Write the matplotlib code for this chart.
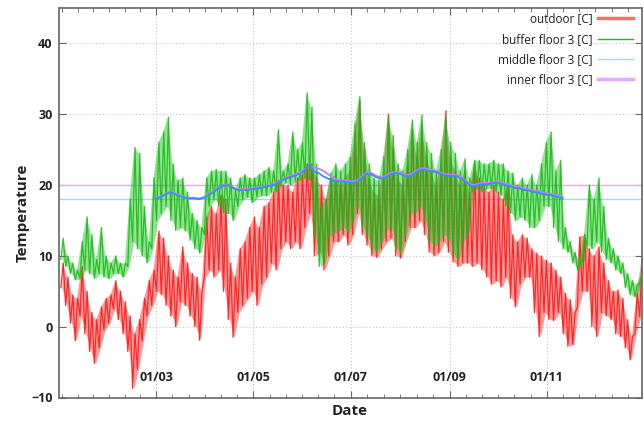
import numpy as np
import matplotlib
matplotlib.use("Agg")
import matplotlib.pyplot as plt
import matplotlib.dates as mdates
from matplotlib.lines import Line2D
import datetime as dt

plt.rcParams['font.family'] = ['Open Sans', 'DejaVu Sans']

# ---------------- data ----------------
year_start = dt.datetime(2011, 1, 1)
step_days = 3  # one low/high pair per 3-day bucket

outdoor_hi = [9, 7, 4.5, 4, 8.5, 5, 2, 1, 2.8, 4,
              4.5, 6.5, 5, 3.5, 1.5, -1, 1, 4, 6.5, 8,
              13.5, 12.5, 10, 8, 7, 11.3, 9, 7.5, 7, 5,
              15.5, 17, 16, 18.6, 18, 9, 7, 11, 12, 14,
              15.5, 14, 17, 17.5, 19, 20.7, 20, 20, 19, 21,
              21.5, 23, 23, 21, 20, 18, 21, 21.5, 20, 21,
              22, 27, 32, 25, 21, 19, 18.5, 22, 30, 25,
              21, 20, 23, 28, 24, 28.5, 24, 22, 20, 23,
              30.5, 24, 22, 20, 22, 19, 23, 21, 20, 19,
              20, 19, 18, 20, 13, 12, 13, 12.5, 11, 10.4,
              10, 9.4, 9, 8, 7, 4.7, 3.8, 2, 12.7, 13,
              11, 10, 11.3, 9, 6.5, 5, 5.2, 4, 1, -1.4,
              4.7, 9.4]
outdoor_lo = [5.5, 3, 0.5, -2, 1.5, -1, -3.5, -5.2, -3, -0.5,
              0.5, 2.5, 1, -1, -3.5, -8.7, -6, -2, 1.5, 3,
              5, 4.5, 3, 1.5, 0, 3.5, 3, 1.5, 0, -1.9,
              7, 8, 7, 8, 5, 1, -1.5, 2, 3, 4,
              5, 3, 6, 7, 9, 8, 11, 12, 11, 12,
              11, 14, 16, 10, 10.5, 8, 10, 12, 12, 13,
              11.5, 13, 16, 13, 11.5, 10, 9.8, 11, 12, 12.5,
              10, 9.7, 12, 14, 14, 15, 13, 10.5, 10, 10.5,
              12, 10.5, 9.1, 8.5, 9, 9, 8.5, 9, 8, 7,
              6, 6.5, 5.6, 7, 4, 2.8, 6, 7, 7, 2,
              -1.4, 2, 1, 0.9, 2, -1, -2.8, -2.5, 2.8, 5,
              5, 0, -1.4, 2, 1.5, 1, -1, -1.4, -3, -4.7,
              -1, 1.4]
buffer_hi = [12.5, 10, 9, 8, 12, 15.5, 13, 9.5, 14, 10,
             9, 10, 9, 9, 18, 25.3, 24.5, 17, 12, 21,
             26, 27.5, 29.6, 23, 20.7, 21, 19, 16, 15, 14,
             21, 22, 22.2, 22, 22, 21, 19.3, 21, 21.5, 21,
             21, 21.5, 22, 22.5, 22, 27.8, 22, 23, 27.5, 25,
             26, 33, 31, 23, 17, 18, 21.7, 23, 22, 23,
             24, 28.7, 32.5, 26, 23, 21, 20.7, 24, 29.7, 27,
             23, 22, 25, 29.2, 26, 29.9, 26, 24.5, 22, 25,
             29.7, 26, 24.5, 22, 23.7, 21, 23.5, 23.5, 23, 23,
             23.5, 23, 23, 22, 21.7, 20, 21, 20, 21.5, 20,
             23, 26, 27.5, 22, 23.5, 14, 12, 10.5, 9.5, 13,
             20, 18, 21, 17, 12.5, 11, 10, 9, 7.5, 6.5,
             6, 7.5]
buffer_lo = [9.5, 8.5, 7.5, 6.6, 6.8, 8, 7.5, 6.8, 7.5, 7,
             6.8, 7.5, 7.5, 7, 8.5, 12, 11, 10, 9, 11,
             15, 16, 17, 15, 13.6, 14, 13.5, 12.2, 11, 10.4,
             13, 17, 18, 17, 16, 16, 15, 17, 18, 18.3,
             17.5, 18.3, 18.5, 18.5, 19, 19, 20, 20.3, 20, 20.5,
             20.7, 21, 20.7, 12.7, 8.5, 9, 12.7, 13.2, 13.5, 14,
             13.2, 15, 17, 14, 12.7, 11, 10.4, 12, 13.7, 14,
             11, 10.4, 13, 16, 16, 17, 15, 12, 11.3, 12,
             13, 12.2, 10, 9.5, 12.2, 13, 19, 19.5, 19, 19.5,
             19.5, 19, 18.5, 17, 16, 15, 15.5, 15, 14, 14,
             15, 17, 17, 14, 12, 11, 10.5, 9, 8, 9,
             11.5, 11, 12, 10.5, 9.5, 9, 8, 7.5, 5.5, 4.5,
             4.2, 6]

indoor_start_day = 59  # 1 March
middle_floor3 = [18.1, 18.3, 18.7, 19.0, 18.7, 18.4, 18.2, 18.1, 18.1, 18.0,
                 18.2, 18.6, 19.0, 19.5, 19.9, 20.0, 19.6, 19.3, 19.3, 19.3,
                 19.4, 19.5, 19.6, 19.8, 19.9, 20.1, 20.5, 20.9, 21.1, 21.3,
                 21.6, 22.0, 22.8, 21.9, 21.7, 21.2, 20.9, 20.6, 20.5, 20.5,
                 20.4, 20.3, 20.4, 21.0, 21.6, 21.5, 21.1, 20.9, 21.1, 21.5,
                 21.7, 21.6, 21.3, 21.2, 21.6, 22.1, 22.2, 22.0, 21.9, 21.7,
                 21.4, 21.3, 21.3, 21.2, 20.8, 20.3, 19.8, 19.9, 20.1, 20.1,
                 20.2, 20.3, 20.2, 20.0, 19.8, 19.6, 19.5, 19.3, 19.2, 19.0,
                 18.9, 18.7, 18.6, 18.5, 18.3, 18.1]
inner_floor3 = [18.2, 18.4, 18.8, 19.1, 18.8, 18.5, 18.3, 18.2, 18.2, 18.1,
                18.3, 18.7, 19.1, 19.6, 20.0, 20.1, 19.7, 19.4, 19.4, 19.4,
                19.5, 19.6, 19.7, 19.9, 20.0, 20.2, 20.6, 21.0, 21.3, 21.5,
                21.8, 22.2, 22.6, 22.5, 22.3, 22.0, 21.5, 21.0, 20.7, 20.7,
                20.6, 20.5, 20.6, 21.2, 21.8, 21.7, 21.3, 21.1, 21.3, 21.7,
                21.9, 21.8, 21.5, 21.4, 21.8, 22.3, 22.4, 22.2, 22.1, 21.9,
                21.6, 21.5, 21.5, 21.4, 21.0, 20.5, 20.0, 20.1, 20.3, 20.3,
                20.4, 20.5, 20.4, 20.2, 20.0, 19.8, 19.7, 19.5, 19.4, 19.2,
                19.1, 18.9, 18.8, 18.7, 18.5, 18.3]
middle_level = 18
inner_level = 20

labels = ["outdoor [C]", "buffer floor 3 [C]", "middle floor 3 [C]", "inner floor 3 [C]"]
yticks = [-10, 0, 10, 20, 30, 40]

# ---------------- helpers ----------------
t0 = mdates.date2num(year_start)


def zigzag(lo, hi):
    t, v = [], []
    for k, (a, b) in enumerate(zip(lo, hi)):
        t += [t0 + k * step_days - 0.75, t0 + k * step_days + 0.75]
        v += [a, b]
    return np.array(t), np.array(v)


c_red = '#ff2020'
c_green = '#18bd18'
c_mid = '#3b8fec'
c_inner = '#c27ef2'
c_mid_ref = '#a9d3ff'
c_inner_ref = '#e3aaff'

fig = plt.figure(figsize=(6.44, 4.21), dpi=100)
W, H = 644, 421
ax = fig.add_axes([59.5 / W, 1 - 397.5 / H, (642 - 59.5) / W, (397.5 - 8) / H])

ax.axhline(middle_level, color=c_mid_ref, lw=1.0, zorder=1)
ax.axhline(inner_level, color=c_inner_ref, lw=1.0, zorder=1)

tc = t0 + step_days * np.arange(len(outdoor_lo))
ax.fill_between(tc, outdoor_lo, outdoor_hi, color=c_red, alpha=0.45, lw=0, zorder=2)
to, vo = zigzag(outdoor_lo, outdoor_hi)
ax.plot(to, vo, color=c_red, lw=0.9, alpha=0.95, zorder=2)

tcb = t0 + step_days * np.arange(len(buffer_lo))
ax.fill_between(tcb, buffer_lo, buffer_hi, color=c_green, alpha=0.45, lw=0, zorder=3)
tb, vb = zigzag(buffer_lo, buffer_hi)
ax.plot(tb, vb, color=c_green, lw=0.9, alpha=0.9, zorder=3)

ti = t0 + indoor_start_day + step_days * np.arange(len(inner_floor3))
ax.plot(ti, inner_floor3, color=c_inner, lw=1.3, zorder=4)
tm = t0 + indoor_start_day + step_days * np.arange(len(middle_floor3))
ax.plot(tm, middle_floor3, color=c_mid, lw=1.3, zorder=5)

ax.set_xlim(t0 - 1.6, t0 + 363.7)
ax.set_ylim(-10, 45)

# ticks
majors = [dt.datetime(2011, m, 1) for m in (3, 5, 7, 9, 11)]
bounds = [dt.datetime(2011, 1, 1)] + majors + [dt.datetime(2012, 1, 1)]
bnum = mdates.date2num(bounds)
minors = []
for a, b in zip(bnum[:-1], bnum[1:]):
    minors += list(a + (b - a) * np.arange(0, 6) / 6.0)
ax.set_xticks(mdates.date2num(majors))
ax.set_xticks(minors, minor=True)
ax.xaxis.set_major_formatter(mdates.DateFormatter('%d/%m'))
ax.set_yticks(yticks)

ax.grid(True, which='major', linestyle=(0, (1, 2)), color='#c4c4c4', lw=0.8)
ax.set_axisbelow(True)
for s in ax.spines.values():
    s.set_color('#666666')
    s.set_linewidth(1.2)
ax.tick_params(which='both', direction='in', top=True, right=True, colors='#666666')
ax.tick_params(which='major', length=5)
ax.tick_params(which='minor', length=3)
ax.tick_params(axis='x', which='major', pad=-19, labelsize=9, labelcolor='#222222')
ax.tick_params(axis='y', which='major', pad=5, labelsize=9, labelcolor='#222222')
for lab in ax.get_xticklabels() + ax.get_yticklabels():
    lab.set_fontweight('bold')

fig.text(23 / W, 1 - 213 / H, 'Temperature', rotation=90, ha='center', va='center',
         fontsize=11, fontweight='bold', color='#222222')
fig.text(350 / W, 1 - 411 / H, 'Date', ha='center', va='center',
         fontsize=11, fontweight='bold', color='#222222')

handles = [Line2D([], [], color='#ff6b6b', lw=2.5),
           Line2D([], [], color=c_green, lw=1.0),
           Line2D([], [], color=c_mid_ref, lw=1.0),
           Line2D([], [], color=c_inner_ref, lw=2.5)]
leg = ax.legend(handles, labels, loc='upper right', bbox_to_anchor=(633 / W, 1 - 12.5 / H),
                bbox_transform=fig.transFigure, frameon=False, markerfirst=False,
                handlelength=3.0, handletextpad=0.4, fontsize=8.5, labelspacing=0.62,
                borderaxespad=0, borderpad=0)
for t in leg.get_texts():
    t.set_color('#222222')

fig.savefig('out.png', dpi=100)
